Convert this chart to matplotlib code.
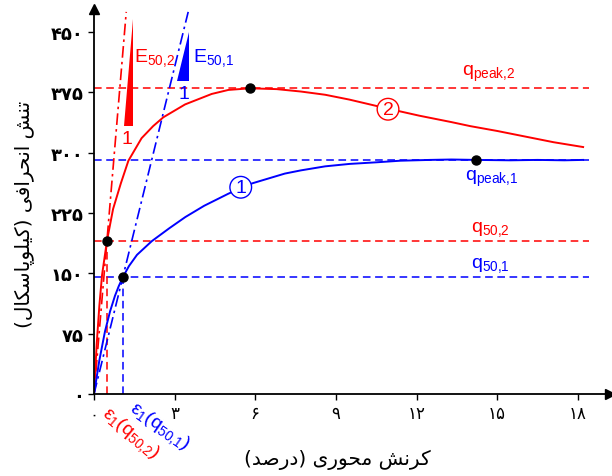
import matplotlib
matplotlib.use("Agg")
import matplotlib.pyplot as plt

plt.rcParams['font.family'] = ['DejaVu Sans']
plt.rcParams['mathtext.fontset'] = 'custom'
plt.rcParams['mathtext.rm'] = 'Liberation Sans'
plt.rcParams['mathtext.it'] = 'Liberation Sans'
plt.rcParams['mathtext.bf'] = 'Liberation Sans:bold'

# curve 2 (red)
strain_2 = [0, 0.1, 0.2, 0.3, 0.48, 0.71, 1.0, 1.28, 1.77, 2.2, 2.58, 3.39, 4.38,
            5.0, 5.8, 6.8, 7.7, 8.6, 9.5, 10.9, 12.1, 13.3, 14.0, 15.0, 15.9, 17.1, 18.2]
stress_2 = [0, 62, 110, 148, 190, 230, 262, 290, 318, 333, 344, 360, 373,
            378, 380, 379, 376, 372, 366, 355, 346, 338, 333, 327, 321, 313, 307]

# curve 1 (blue)
strain_1 = [0, 0.2, 0.41, 0.6, 0.78, 0.92, 1.07, 1.3, 1.6, 2.15, 2.8, 3.4, 4.1, 5.0,
            5.46, 5.9, 6.5, 7.1, 7.7, 8.6, 9.5, 10.5, 11.4, 12.5, 13.3, 14.2,
            15.5, 16.5, 17.5, 18.2]
stress_1 = [0, 42, 78, 103, 122, 134, 145, 159, 173, 190, 206, 220, 234, 249,
            256, 262, 268, 274, 278, 283, 286, 288, 290, 291, 291.5, 291,
            290.5, 291, 290.5, 291]

q_peak = [291, 380]      # 1, 2
eps_peak = [14.2, 5.8]
q_50 = [145, 190]
eps_50 = [1.07, 0.48]

x_ticks = [0, 3, 6, 9, 12, 15, 18]
y_ticks = [0, 75, 150, 225, 300, 375, 450]

x_label = "کرنش محوری (درصد)"
y_label = "تنش انحرافی (کیلوپاسکال)"

RED = '#ff0000'
BLUE = '#0000ff'

# simple persian shaping (matplotlib has no complex text layout)
FORMS = {
    'ا': ('\ufe8d', '\ufe8e', None, None),
    'د': ('\ufea9', '\ufeaa', None, None),
    'ر': ('\ufead', '\ufeae', None, None),
    'و': ('\ufeed', '\ufeee', None, None),
    'پ': ('\ufb56', '\ufb57', '\ufb58', '\ufb59'),
    'ت': ('\ufe95', '\ufe96', '\ufe97', '\ufe98'),
    'ح': ('\ufea1', '\ufea2', '\ufea3', '\ufea4'),
    'س': ('\ufeb1', '\ufeb2', '\ufeb3', '\ufeb4'),
    'ش': ('\ufeb5', '\ufeb6', '\ufeb7', '\ufeb8'),
    'ص': ('\ufeb9', '\ufeba', '\ufebb', '\ufebc'),
    'ف': ('\ufed1', '\ufed2', '\ufed3', '\ufed4'),
    'ک': ('\ufb8e', '\ufb8f', '\ufb90', '\ufb91'),
    'ل': ('\ufedd', '\ufede', '\ufedf', '\ufee0'),
    'م': ('\ufee1', '\ufee2', '\ufee3', '\ufee4'),
    'ن': ('\ufee5', '\ufee6', '\ufee7', '\ufee8'),
    'ی': ('\ufbfc', '\ufbfd', '\ufbfe', '\ufbff'),
}


def shape(text):
    out = []
    for i, c in enumerate(text):
        if c not in FORMS:
            out.append(c)
            continue
        iso, fin, ini, med = FORMS[c]
        prev = text[i - 1] if i > 0 else ''
        nxt = text[i + 1] if i + 1 < len(text) else ''
        jp = prev in FORMS and FORMS[prev][2] is not None
        jn = nxt in FORMS and ini is not None
        if jp and jn:
            out.append(med)
        elif jp:
            out.append(fin)
        elif jn:
            out.append(ini)
        else:
            out.append(iso)
    s = ''.join(out)[::-1]
    return s.translate(str.maketrans('()', ')('))


def fa_num(n):
    return str(n).translate(str.maketrans('0123456789', '۰۱۲۳۴۵۶۷۸۹'))


fig = plt.figure(figsize=(6.12, 4.77), dpi=100)
ax = fig.add_axes([94 / 612, 82 / 477, 516 / 612, 385 / 477])
ax.set_xlim(0, 19.2)
ax.set_ylim(0, 478.6)

# reference lines
dash = (0, (5, 3))
ax.hlines([q_peak[1], q_50[1]], 0, 18.4, colors=RED, linestyles=dash, lw=1.1)
ax.hlines([q_peak[0], q_50[0]], 0, 18.4, colors=BLUE, linestyles=dash, lw=1.1)
ax.vlines(eps_50[1], 0, q_50[1], colors=RED, linestyles=dash, lw=1.1)
ax.vlines(eps_50[0], 0, q_50[0], colors=BLUE, linestyles=dash, lw=1.1)

# secant modulus lines
top = 475
for k, col in [(1, RED), (0, BLUE)]:
    slope = q_50[k] / eps_50[k]
    ax.plot([0, top / slope], [0, top], color=col, lw=1.2,
            linestyle=(0, (7, 2.5, 1.5, 2.5)))

# curves
ax.plot(strain_2, stress_2, color=RED, lw=1.4)
ax.plot(strain_1, stress_1, color=BLUE, lw=1.4)

# markers
ax.plot([eps_50[1], eps_50[0], eps_peak[1], eps_peak[0]],
        [q_50[1], q_50[0], q_peak[1], q_peak[0]], 'o', color='k', ms=6.5, zorder=5)

# slope triangles
ax.fill([1.12, 1.46, 1.46], [333, 333, 466], color=RED, lw=0)
ax.fill([3.10, 3.55, 3.55], [389, 389, 450], color=BLUE, lw=0)
ax.text(1.24, 317, '1', color=RED, fontsize=14, ha='center', va='center',
        family='Liberation Sans')
ax.text(3.33, 373, '1', color=BLUE, fontsize=14, ha='center', va='center',
        family='Liberation Sans')
ax.text(1.50, 414, r'$\mathrm{E}_{50{,}2}$', color=RED, fontsize=14, ha='left', va='baseline')
ax.text(3.68, 414, r'$\mathrm{E}_{50{,}1}$', color=BLUE, fontsize=14, ha='left', va='baseline')

# q labels
ax.text(14.7, 386, r'$\mathrm{q}_{\mathrm{peak{,}2}}$', color=RED, fontsize=14, ha='center', va='bottom')
ax.text(14.8, 281, r'$\mathrm{q}_{\mathrm{peak{,}1}}$', color=BLUE, fontsize=14, ha='center', va='top')
ax.text(14.75, 194, r'$\mathrm{q}_{50{,}2}$', color=RED, fontsize=14, ha='center', va='bottom')
ax.text(14.75, 149, r'$\mathrm{q}_{50{,}1}$', color=BLUE, fontsize=14, ha='center', va='bottom')

# curve numbers
ax.text(10.94, 354, '2', color=RED, fontsize=14, ha='center', va='center',
        family='Liberation Sans',
        bbox=dict(boxstyle='circle,pad=0.12', fc='white', ec=RED, lw=1))
ax.text(5.46, 257, '1', color=BLUE, fontsize=14, ha='center', va='center',
        family='Liberation Sans',
        bbox=dict(boxstyle='circle,pad=0.12', fc='white', ec=BLUE, lw=1))

# strain labels under the axis
ax.text(1.34, -48, r'$\mathrm{\varepsilon}_1(\mathrm{q}_{50{,}2})$', color=RED, fontsize=14,
        ha='center', va='center', rotation=-40, clip_on=False)
ax.text(2.42, -40, r'$\mathrm{\varepsilon}_1(\mathrm{q}_{50{,}1})$', color=BLUE, fontsize=14,
        ha='center', va='center', rotation=-35, clip_on=False)

# axes look
for s in ['top', 'right']:
    ax.spines[s].set_visible(False)
for s in ['left', 'bottom']:
    ax.spines[s].set_linewidth(1.3)
ax.plot(1, 0, '>k', ms=7, transform=ax.transAxes, clip_on=False)
ax.plot(0, 1, '^k', ms=7, transform=ax.transAxes, clip_on=False)

ax.set_xticks(x_ticks)
ax.set_xticklabels([fa_num(v) for v in x_ticks], fontsize=12)
ax.set_yticks(y_ticks)
ax.set_yticklabels([fa_num(v) for v in y_ticks], fontsize=13, fontweight='bold')
ax.tick_params(direction='out', length=4, width=1)

ax.set_xlabel(shape(x_label), fontsize=14.5)
ax.xaxis.set_label_coords(243 / 516, -0.143)
ax.set_ylabel(shape(y_label), fontsize=14.5)
ax.yaxis.set_label_coords(-0.114, 0.47)

fig.savefig('out.png', dpi=100)
